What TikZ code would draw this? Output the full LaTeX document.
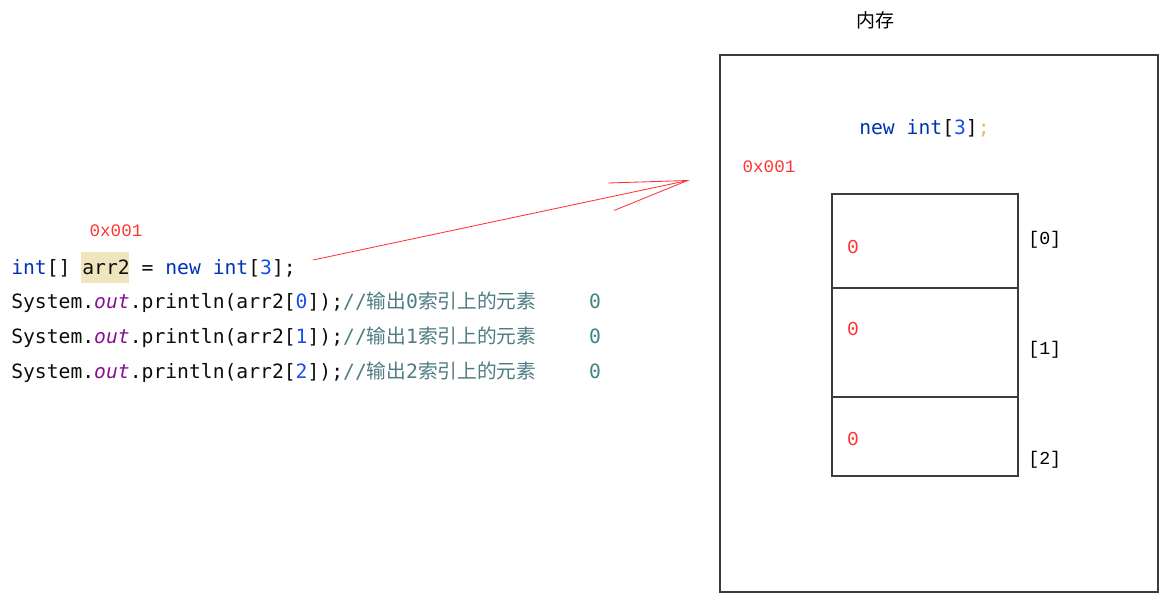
\documentclass[tikz,border=0pt]{standalone}
\usepackage{fontspec}
\setmonofont{DejaVu Sans Mono}
\newfontfamily\cjk{Noto Sans CJK SC}
\newfontfamily\addrfont{Liberation Mono}
\usetikzlibrary{arrows.meta}
\definecolor{kwblue}{HTML}{0033B3}
\definecolor{numblue}{HTML}{1750EB}
\definecolor{fieldpurple}{HTML}{871094}
\definecolor{commentteal}{HTML}{4F7C84}
\definecolor{resultteal}{HTML}{3E8585}
\definecolor{addrred}{HTML}{FF3333}
\definecolor{hlyellow}{HTML}{EFE6BD}
\definecolor{framegray}{HTML}{3C3C3C}
\definecolor{semiorange}{HTML}{E8B878}
% Syntax colouring of the Java snippet
\newcommand{\kw}[1]{\textcolor{kwblue}{#1}}
\newcommand{\num}[1]{\textcolor{numblue}{#1}}

\begin{document}
\begin{tikzpicture}[x=0.025cm, y=-0.025cm,
    code/.style={anchor=base west, inner sep=0pt, text=black!95,
      font=\ttfamily\fontsize{14pt}{16pt}\selectfont},
    addr/.style={text=addrred, inner sep=0pt, font=\addrfont\fontsize{12.5pt}{14pt}\selectfont},
    idx/.style={inner sep=0pt, anchor=west, font=\addrfont\fontsize{13pt}{15pt}\selectfont},
    frame/.style={draw=framegray, line width=0.8pt},
    ptr/.style={draw=addrred, line width=0.6pt, -{Straight Barb[length=1.95cm, width=0.7cm]}}]
  \useasboundingbox (0,0) rectangle (1170,606);

  % Java code on the left
  \fill[hlyellow] (81,252) rectangle (129,283);
  \node[addr] (ref addr) at (116,231) {0x001};
  \node[code] (decl) at (11,274) {\kw{int}[] arr2 = \kw{new} \kw{int}[\num{3}];};
  \foreach \i in {0,1,2} {
    \node[code] (print\i) at (11,{308+35*\i})
      {System.\textcolor{fieldpurple}{\itshape out}.println(arr2[\num{\i}]);%
       \textcolor{commentteal}{//{\cjk 输出}\i{\cjk 索引上的元素}}};
    \node[code, anchor=base] (res\i) at (595,{308+35*\i}) {\textcolor{resultteal}{0}};
  }

  % Memory
  \node[font=\cjk\fontsize{13.5pt}{15pt}\selectfont, inner sep=0pt] (mem title) at (875,20) {内存};
  \draw[frame] (720,55) rectangle (1158,592);
  \node[code, anchor=west] (alloc) at (859,128)
    {\kw{new} \kw{int}[\num{3}]\textcolor{semiorange}{;}};
  \node[addr] (arr addr) at (769,167) {0x001};

  % The three array cells: top, bottom, row of the value, row of the index
  \foreach \top/\bot/\vy/\iy [count=\n from 0] in {194/288/247/240, 288/397/329/350, 397/476/439/460} {
    \draw[frame] (832,\top) rectangle (1018,\bot);
    \node[addr, font=\addrfont\fontsize{14pt}{16pt}\selectfont] (val\n) at (853,\vy) {0};
    \node[idx] (idx\n) at (1028,\iy) {[\n]};
  }

  % Reference from the variable to the array
  \coordinate (ptr tail) at (313,260);
  \coordinate (ptr head) at (690,180);
  \draw[ptr] (ptr tail) -- (ptr head);
\end{tikzpicture}
\end{document}
